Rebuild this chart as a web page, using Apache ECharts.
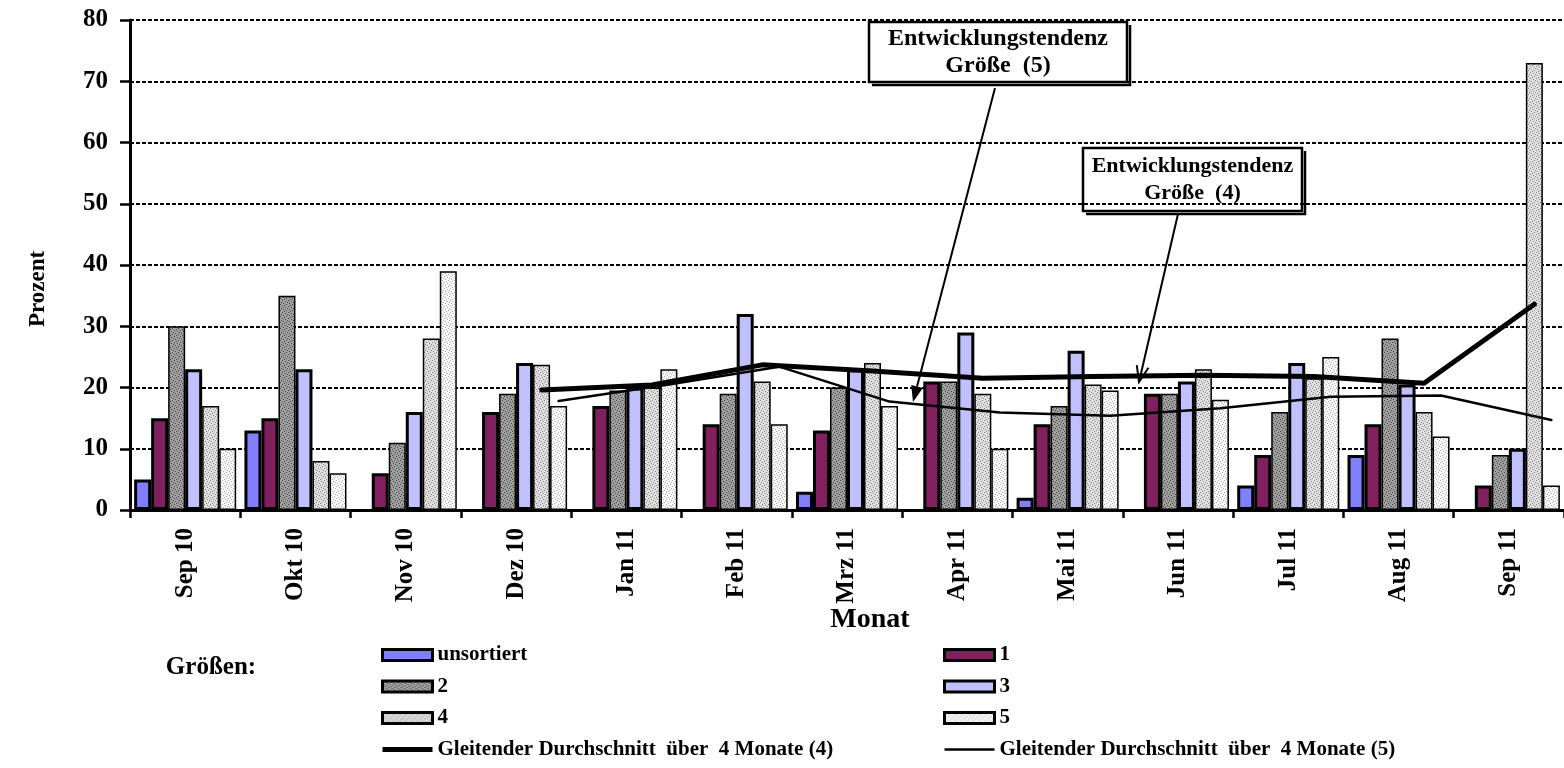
<!DOCTYPE html>
<html><head><meta charset="utf-8">
<script src="https://cdn.jsdelivr.net/npm/echarts@6/dist/echarts.min.js"></script>
<style>html,body{margin:0;padding:0;background:#fff}#c{width:1564px;height:768px}</style>
</head><body><div id="c"></div>
<script>
const months = ['Sep 10','Okt 10','Nov 10','Dez 10','Jan 11','Feb 11','Mrz 11','Apr 11','Mai 11','Jun 11','Jul 11','Aug 11','Sep 11'];
const unsortiert = [5,13,null,null,null,null,3,null,2,null,4,9,null];
const size1 = [15,15,6,16,17,14,13,21,14,19,9,14,4];
const size2 = [30,35,11,19,19.5,19,20,21,17,19,16,28,9];
const size3 = [23,23,16,24,20,32,23,29,26,21,24,20.5,10];
const size4 = [17,8,28,23.7,20,21,24,19,20.5,23,21.5,16,73];
const size5 = [10,6,39,17,23,14,17,10,19.5,18,25,12,4];
const avg4 = [null,null,null,19.6,20.4,23.7,22.7,21.5,21.8,22,21.8,20.7,33.6];
const avg5 = [null,null,null,17.8,20.5,23.4,17.7,15.9,15.4,16.6,18.5,18.7,14.7];
const yMin = 0, yMax = 80, yStep = 10;

const FONT = '"Liberation Serif","Times New Roman",serif';
const GAP = 0.075;               // bar category gap fraction
const NB = 6;                    // bars per category
const bw = (1 - GAP) / NB;
const barCenter = k => GAP / 2 + (k + 0.5) * bw;

function pat(base, dot) {
  const c = document.createElement('canvas'); c.width = 6; c.height = 6;
  const x = c.getContext('2d'); x.fillStyle = base; x.fillRect(0, 0, 6, 6);
  x.fillStyle = dot;
  [[0,0],[3,1],[1,3],[4,4],[2,5],[5,2]].forEach(p => x.fillRect(p[0], p[1], 1, 1));
  return { image: c, repeat: 'repeat' };
}

function bar(name, data, color, bwid) {
  return { name, type: 'bar', data, barGap: '0%', barCategoryGap: (GAP*100)+'%',
    itemStyle: { color, borderColor: '#000', borderWidth: bwid }, z: 2 };
}
function avgLine(name, arr, k, width) {
  const d = [];
  arr.forEach((v, i) => { if (v != null) d.push([i + barCenter(k), v]); });
  return { name, type: 'line', xAxisIndex: 1, data: d, symbol: 'none', z: 5,
    lineStyle: { color: '#000', width, cap: 'round', join: 'round' }, itemStyle: { color: '#000' } };
}

function arrow(x1, y1, x2, y2, filled) {
  const dx = x2 - x1, dy = y2 - y1, L = Math.hypot(dx, dy), ux = dx / L, uy = dy / L;
  const hl = 16, hw = 6;
  const bx = x2 - ux * hl, by = y2 - uy * hl;
  const p1 = [bx + uy * hw, by - ux * hw], p2 = [bx - uy * hw, by + ux * hw];
  const els = [{ type: 'line', shape: { x1, y1, x2: filled ? bx : x2, y2: filled ? by : y2 }, style: { stroke: '#000', lineWidth: 2 }, z: 20 }];
  if (filled) els.push({ type: 'polygon', shape: { points: [[x2, y2], p1, p2] }, style: { fill: '#000' }, z: 20 });
  else els.push({ type: 'polyline', shape: { points: [p1, [x2, y2], p2] }, style: { stroke: '#000', lineWidth: 2, fill: null }, z: 20 });
  return els;
}
function box(x, y, w, h, text, fs) {
  return [
    { type: 'polyline', shape: { points: [[x + 3, y + h + 3], [x + w + 3, y + h + 3], [x + w + 3, y + 3]] }, style: { stroke: '#000', lineWidth: 2.5, fill: null }, z: 20 },
    { type: 'rect', shape: { x, y, width: w, height: h }, style: { fill: null, stroke: '#000', lineWidth: 2.5 }, z: 20 },
    { type: 'text', x: x + w / 2, y: y + h / 2, style: { text, fill: '#000', font: 'bold ' + fs + 'px ' + FONT, align: 'center', verticalAlign: 'middle', lineHeight: 27 }, z: 21 }
  ];
}

const chart = echarts.init(document.getElementById('c'));
const legText = { fontFamily: FONT, fontWeight: 'bold', fontSize: 21, color: '#000', lineHeight: 22 };
const legBox = { borderColor: '#000', borderWidth: 3 };
chart.setOption({
  animation: false,
  backgroundColor: '#fff',
  grid: { left: 130, top: 20, width: 1448, height: 490, containLabel: false },
  xAxis: [{
    type: 'category', data: months, boundaryGap: true,
    axisLine: { lineStyle: { color: '#000', width: 3 } },
    axisTick: { show: true, interval: 0, length: 8, lineStyle: { color: '#000', width: 2.5 } },
    axisLabel: { rotate: 90, interval: 0, margin: 18, color: '#000', fontFamily: FONT, fontWeight: 'bold', fontSize: 25 },
    splitLine: { show: false }
  }, { type: 'value', min: 0, max: months.length, show: false }],
  yAxis: {
    type: 'value', min: yMin, max: yMax, interval: yStep,
    axisLine: { show: true, lineStyle: { color: '#000', width: 3 } },
    axisTick: { show: true, length: 10, lineStyle: { color: '#000', width: 2.5 } },
    axisLabel: { margin: 22, color: '#000', fontFamily: FONT, fontWeight: 'bold', fontSize: 25 },
    splitLine: { show: true, lineStyle: { color: '#000', width: 2.2, type: [4, 2] } }
  },
  legend: [
    { orient: 'vertical', left: 376, top: 639, itemWidth: 50, itemHeight: 11, itemGap: 9.5, textStyle: legText, icon: 'rect',
      data: [{name:'unsortiert', itemStyle: legBox}, {name:'2', itemStyle: legBox}, {name:'4', itemStyle: legBox},
             {name:'Gleitender Durchschnitt  über  4 Monate (4)', icon: 'path://M0,0 L50,0 L50,5 L0,5 Z'}] },
    { orient: 'vertical', left: 938, top: 639, itemWidth: 50, itemHeight: 11, itemGap: 9.5, textStyle: legText, icon: 'rect',
      data: [{name:'1', itemStyle: legBox}, {name:'3', itemStyle: legBox}, {name:'5', itemStyle: legBox},
             {name:'Gleitender Durchschnitt  über  4 Monate (5)', icon: 'path://M0,0 L50,0 L50,2.5 L0,2.5 Z'}] }
  ],
  series: [
    bar('unsortiert', unsortiert, '#8080FF', 3),
    bar('1', size1, '#80205F', 3),
    bar('2', size2, pat('#A0A0A0', '#404040'), 1.5),
    bar('3', size3, '#C0C0FF', 3),
    bar('4', size4, pat('#E0E0E0', '#808080'), 1.5),
    bar('5', size5, pat('#FAFAFA', '#A8A8A8'), 1.5),
    avgLine('Gleitender Durchschnitt  über  4 Monate (4)', avg4, 4, 5),
    avgLine('Gleitender Durchschnitt  über  4 Monate (5)', avg5, 5, 2.5)
  ],
  graphic: [
    ...box(869, 22, 258, 60, 'Entwicklungstendenz\nGröße  (5)', 24),
    ...box(1083, 148, 219, 63, 'Entwicklungstendenz\nGröße  (4)', 22),
    ...arrow(995, 88, 913, 402, true),
    ...arrow(1178, 214, 1139, 382, false),
    { type: 'text', x: 870, y: 620, style: { text: 'Monat', fill: '#000', font: 'bold 28px ' + FONT, align: 'center', verticalAlign: 'middle' }, z: 30 },
    { type: 'text', x: 38, y: 289, rotation: Math.PI / 2, style: { text: 'Prozent', fill: '#000', font: 'bold 23px ' + FONT, align: 'center', verticalAlign: 'middle' }, z: 30 },
    { type: 'text', x: 211, y: 668, style: { text: 'Größen:', fill: '#000', font: 'bold 25px ' + FONT, align: 'center', verticalAlign: 'middle' }, z: 30 }
  ]
});
</script></body></html>
